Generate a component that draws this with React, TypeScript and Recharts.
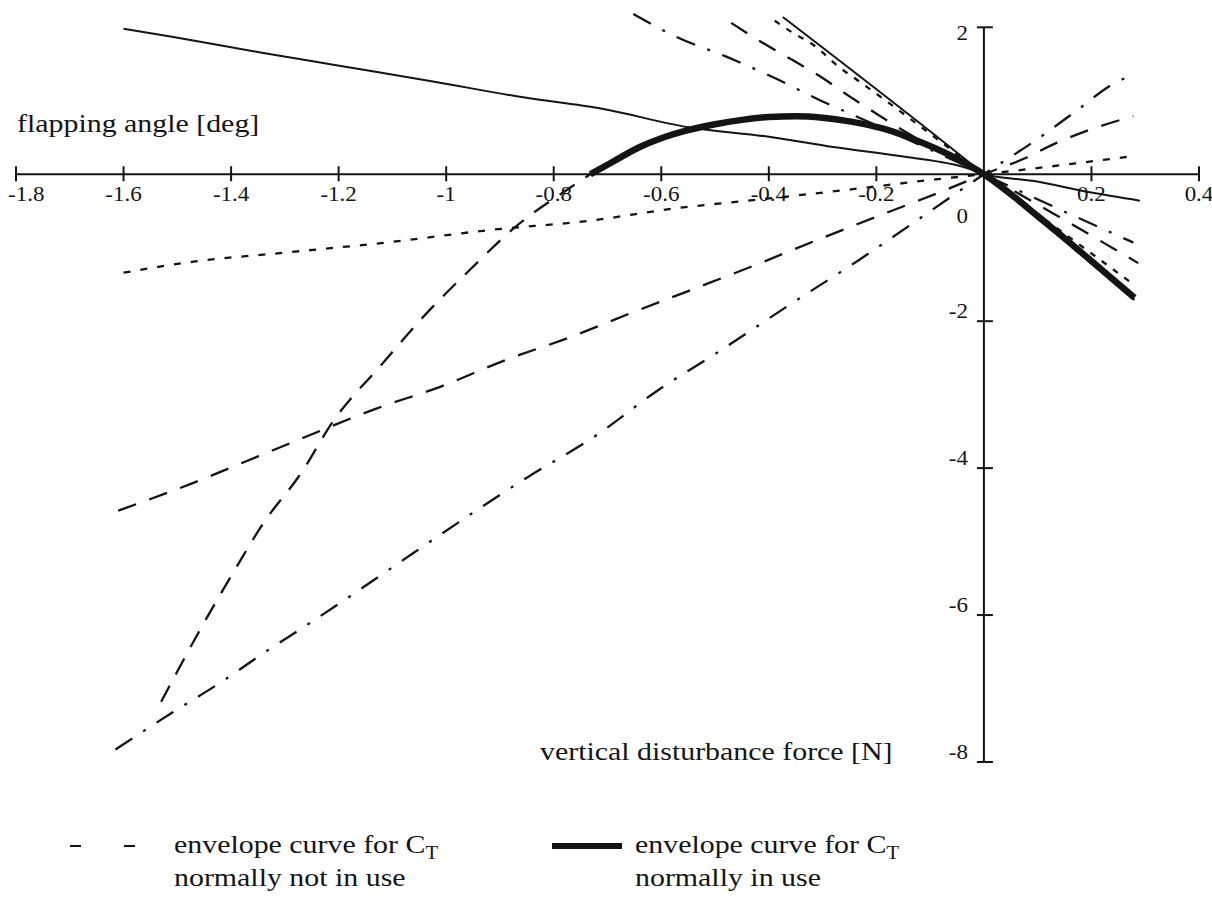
import React from 'react';
import { LineChart, Line, XAxis, YAxis, ReferenceLine, ReferenceDot } from 'recharts';

type Pt = [number, number];

// ---- axis ticks ----
const xTicks = [-1.8, -1.6, -1.4, -1.2, -1, -0.8, -0.6, -0.4, -0.2, 0.2, 0.4];
const yTicks = [2, -2, -4, -6, -8];
const xDomain: [number, number] = [-1.8, 0.4];
const yDomain: [number, number] = [-8, 2.2];

// ---- text ----
const yTitle = 'flapping angle [deg]';
const xTitle = 'vertical disturbance force [N]';
const legendLine1 = 'envelope curve for C';
const legendSub = 'T';
const legendNotInUse = 'normally not in use';
const legendInUse = 'normally in use';

// ---- series (x = force [N], y = flapping angle [deg]) ----
const thinCurve: Pt[] = [
  [-1.6, 1.98], [-1.51, 1.87], [-1.34, 1.65], [-1.21, 1.49], [-1.03, 1.27], [-0.86, 1.05],
  [-0.71, 0.89], [-0.55, 0.64], [-0.4, 0.51], [-0.28, 0.37], [-0.15, 0.24], [-0.03, 0.08],
  [0, 0], [0.09, -0.09], [0.2, -0.25], [0.29, -0.36],
];
const envelopeNotInUse: Pt[] = [
  [-1.53, -7.18], [-1.46, -6.23], [-1.4, -5.47], [-1.34, -4.75], [-1.27, -4.07], [-1.21, -3.36],
  [-1.12, -2.59], [-1.045, -1.96], [-0.953, -1.28], [-0.872, -0.72], [-0.773, -0.2], [-0.732, 0],
];
const envelopeInUse: Pt[] = [
  [-0.732, 0], [-0.69, 0.17], [-0.64, 0.37], [-0.6, 0.49], [-0.55, 0.6], [-0.5, 0.68],
  [-0.45, 0.74], [-0.4, 0.78], [-0.35, 0.79], [-0.3, 0.77], [-0.25, 0.72], [-0.187, 0.62],
  [-0.125, 0.46], [-0.063, 0.26], [0, 0], [0.05, -0.27], [0.1, -0.57], [0.15, -0.87],
  [0.2, -1.18], [0.28, -1.68],
];
const posShortDash: Pt[] = [
  [-1.6, -1.34], [-1.47, -1.19], [-1.29, -1.06], [-1.1, -0.92], [-0.92, -0.76], [-0.73, -0.63],
  [-0.58, -0.47], [-0.4, -0.33], [-0.24, -0.2], [-0.09, -0.07], [0, 0], [0.14, 0.12], [0.28, 0.25],
];
const posLongDash: Pt[] = [
  [-1.61, -4.58], [-1.47, -4.2], [-1.35, -3.84], [-1.26, -3.57], [-1.13, -3.19], [-1.01, -2.89],
  [-0.89, -2.53], [-0.77, -2.22], [-0.66, -1.9], [-0.55, -1.59], [-0.43, -1.25], [-0.315, -0.91],
  [-0.19, -0.55], [-0.08, -0.24], [0, 0], [0.074, 0.21], [0.136, 0.43], [0.191, 0.59], [0.278, 0.79],
];
const posDashDot: Pt[] = [
  [-1.615, -7.83], [-1.51, -7.33], [-1.42, -6.92], [-1.34, -6.52], [-1.26, -6.14], [-1.18, -5.75],
  [-1.1, -5.35], [-0.85, -4.13], [-0.72, -3.55], [-0.61, -2.96], [-0.49, -2.4], [-0.36, -1.77],
  [-0.235, -1.18], [-0.105, -0.53], [0, 0], [0.098, 0.47], [0.166, 0.83], [0.248, 1.26], [0.278, 1.35],
];
const negDashDot: Pt[] = [
  [-0.652, 2.18], [-0.572, 1.87], [-0.479, 1.6], [-0.389, 1.31], [-0.3, 0.99], [-0.238, 0.79],
  [0, 0], [0.064, -0.22], [0.278, -0.93],
];
const negLongDash: Pt[] = [
  [-0.47, 2.06], [-0.414, 1.8], [-0.355, 1.55], [-0.3, 1.31], [-0.25, 1.06], [-0.197, 0.81],
  [-0.142, 0.56], [0, 0], [0.287, -1.21],
];
const negShortDash: Pt[] = [
  [-0.389, 2.09], [-0.352, 1.91], [-0.321, 1.78], [-0.266, 1.44], [-0.235, 1.28], [0, 0], [0.271, -1.46],
];
const negSolid: Pt[] = [[-0.374, 2.14], [0, 0], [0.28, -1.71]];

// ---- styling ----
const INK = '#141414';
const SERIF = '"Liberation Serif", "Times New Roman", Times, serif';
const SX = 1.15; // the scanned figure is stretched horizontally

const DASH_SHORT = '7 10';
const DASH_LONG = '19 14';
const DASH_DOT = '20 13 3 13';

const seriesList = [
  { key: 'posShortDash', pts: posShortDash, dash: DASH_SHORT, width: 2.3 },
  { key: 'posLongDash', pts: posLongDash, dash: DASH_LONG, width: 2.3 },
  { key: 'posDashDot', pts: posDashDot, dash: DASH_DOT, width: 2.3 },
  { key: 'negDashDot', pts: negDashDot, dash: DASH_DOT, width: 2.3 },
  { key: 'negLongDash', pts: negLongDash, dash: DASH_LONG, width: 2.3 },
  { key: 'negShortDash', pts: negShortDash, dash: '6 8', width: 2.3 },
  { key: 'negSolid', pts: negSolid, dash: undefined, width: 2 },
  { key: 'thinCurve', pts: thinCurve, dash: undefined, width: 2 },
  { key: 'envelopeNotInUse', pts: envelopeNotInUse, dash: '18 13', width: 2.3 },
  { key: 'envelopeInUse', pts: envelopeInUse, dash: undefined, width: 6.5 },
];

const toRows = (pts: Pt[]) => pts.map(([x, y]) => ({ x, y }));

const XTick = (label: string, first: boolean) => (props: any) => {
  const { cx, cy } = props;
  return (
    <g>
      <line x1={cx} x2={cx} y1={cy - 8} y2={cy + 7} stroke={INK} strokeWidth={2} />
      <text
        transform={`translate(${first ? cx - 8 : cx},${cy + 27}) scale(${SX},1)`}
        textAnchor={first ? 'start' : 'middle'}
        fontSize={20}
        fontFamily={SERIF}
        fill={INK}
      >
        {label}
      </text>
    </g>
  );
};

const YTick = (label: string, above: boolean) => (props: any) => {
  const { cx, cy } = props;
  return (
    <g>
      <line x1={cx - 7} x2={cx + 9} y1={cy} y2={cy} stroke={INK} strokeWidth={2} />
      <text
        transform={`translate(${cx - 16},${above ? cy - 3 : cy + 13}) scale(${SX},1)`}
        textAnchor="end"
        fontSize={20}
        fontFamily={SERIF}
        fill={INK}
      >
        {label}
      </text>
    </g>
  );
};

const ZeroLabel = (props: any) => {
  const { cx, cy } = props;
  return (
    <text
      transform={`translate(${cx - 16},${cy + 49}) scale(${SX},1)`}
      textAnchor="end"
      fontSize={20}
      fontFamily={SERIF}
      fill={INK}
    >
      0
    </text>
  );
};

const TitleText = ({ x, y, children }: { x: number; y: number; children: React.ReactNode }) => (
  <text transform={`translate(${x},${y}) scale(${SX},1)`} fontSize={26} fontFamily={SERIF} fill={INK}>
    {children}
  </text>
);

export default function App() {
  return (
    <div style={{ position: 'absolute', left: 0, top: 0, width: 1212, height: 898, background: '#fff' }}>
      <LineChart width={1212} height={898} margin={{ top: 12.6, right: 13, bottom: 136, left: 16 }}>
        <XAxis type="number" dataKey="x" domain={xDomain} hide allowDataOverflow />
        <YAxis type="number" dataKey="y" domain={yDomain} hide allowDataOverflow />
        <ReferenceLine
          segment={[{ x: xDomain[0], y: 0 }, { x: xDomain[1], y: 0 }]}
          stroke={INK}
          strokeWidth={2}
        />
        <ReferenceLine segment={[{ x: 0, y: 2 }, { x: 0, y: -8 }]} stroke={INK} strokeWidth={2} />
        {xTicks.map((t, i) => (
          <ReferenceDot key={`xt${t}`} x={t} y={0} r={0} shape={XTick(String(t), i === 0)} />
        ))}
        {yTicks.map((t) => (
          <ReferenceDot key={`yt${t}`} x={0} y={t} r={0} shape={YTick(String(t), t !== 2)} />
        ))}
        <ReferenceDot x={0} y={0} r={0} shape={ZeroLabel} />
        {seriesList.map((s) => (
          <Line
            key={s.key}
            data={toRows(s.pts)}
            dataKey="y"
            type="monotone"
            stroke={INK}
            strokeWidth={s.width}
            strokeDasharray={s.dash}
            strokeLinejoin="round"
            dot={false}
            activeDot={false}
            isAnimationActive={false}
          />
        ))}
      </LineChart>
      <svg
        width={1212}
        height={898}
        style={{ position: 'absolute', left: 0, top: 0, pointerEvents: 'none' }}
      >
        <TitleText x={17} y={132}>{yTitle}</TitleText>
        <TitleText x={540} y={760}>{xTitle}</TitleText>

        <line x1={70} x2={81} y1={846} y2={846} stroke={INK} strokeWidth={2} />
        <line x1={124} x2={135} y1={846} y2={846} stroke={INK} strokeWidth={2} />
        <TitleText x={174} y={853}>
          {legendLine1}
          <tspan fontSize={18} dy={6}>{legendSub}</tspan>
        </TitleText>
        <TitleText x={174} y={886}>{legendNotInUse}</TitleText>

        <line x1={552} x2={622} y1={846} y2={846} stroke={INK} strokeWidth={6} />
        <TitleText x={635} y={853}>
          {legendLine1}
          <tspan fontSize={18} dy={6}>{legendSub}</tspan>
        </TitleText>
        <TitleText x={635} y={886}>{legendInUse}</TitleText>
      </svg>
    </div>
  );
}
